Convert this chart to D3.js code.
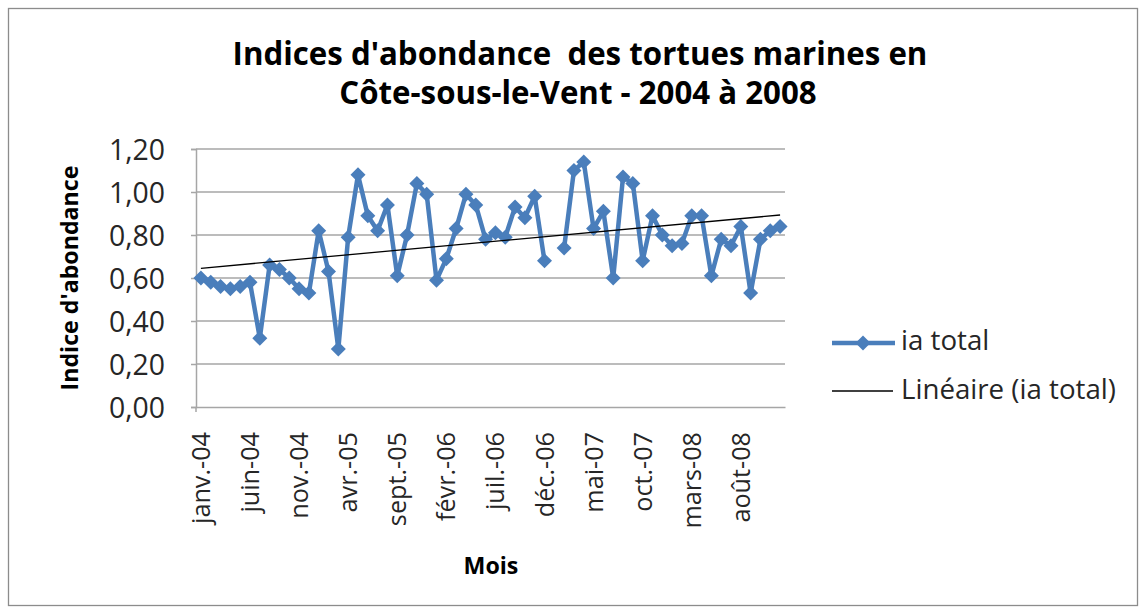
<!DOCTYPE html>
<html>
<head>
<meta charset="utf-8">
<script src="https://cdn.jsdelivr.net/npm/d3@7/dist/d3.min.js"></script>
<style>
  html, body { margin: 0; padding: 0; background: #fff; }
  svg { display: block; }
  text { font-family: "Open Sans", "Noto Sans", sans-serif; }
  .pre { white-space: pre; }
</style>
</head>
<body>
<script>
// ---------- DATA ----------
const titleLines = ["Indices d'abondance  des tortues marines en", "Côte-sous-le-Vent - 2004 à 2008"];
const monthAbbr = ["janv.", "févr.", "mars", "avr.", "mai", "juin", "juil.", "août", "sept.", "oct.", "nov.", "déc."];
const years = ["04", "05", "06", "07", "08"];
const categories = years.flatMap(y => monthAbbr.map(m => m + "-" + y));
const iaTotal = [
  0.60, 0.58, 0.56, 0.55, 0.56, 0.58, 0.32, 0.66, 0.64, 0.60, 0.55, 0.53,
  0.82, 0.63, 0.27, 0.79, 1.08, 0.89, 0.82, 0.94, 0.61, 0.80, 1.04, 0.99,
  0.59, 0.69, 0.83, 0.99, 0.94, 0.78, 0.81, 0.79, 0.93, 0.88, 0.98, 0.68,
  null, 0.74, 1.10, 1.14, 0.83, 0.91, 0.60, 1.07, 1.04, 0.68, 0.89, 0.80,
  0.75, 0.76, 0.89, 0.89, 0.61, 0.78, 0.75, 0.84, 0.53, 0.78, 0.82, 0.84
];
const yTicks = [0, 0.2, 0.4, 0.6, 0.8, 1.0, 1.2];
const seriesName = "ia total";
const trendName = "Linéaire (ia total)";
const yTitle = "Indice d'abondance";
const xTitle = "Mois";

// ---------- LAYOUT ----------
const W = 1146, H = 610;
const plot = { left: 196, right: 785, top: 149, bottom: 407 };
const blue = "#4A7EBB";

const svg = d3.select("body").append("svg").attr("width", W).attr("height", H);
svg.append("rect").attr("x", 0).attr("y", 0).attr("width", W).attr("height", H).attr("fill", "#fff");
svg.append("rect").attr("x", 8.5).attr("y", 8.5).attr("width", 1129).attr("height", 597)
  .attr("fill", "none").attr("stroke", "#8c8c8c").attr("stroke-width", 1.3);

function fit(sel, target) {
  const n = sel.node();
  const fs = parseFloat(sel.attr("font-size"));
  const w = n.getComputedTextLength();
  sel.attr("font-size", (fs * target / w).toFixed(2));
}

const x = d3.scaleBand().domain(categories).range([plot.left, plot.right]).padding(0);
const y = d3.scaleLinear().domain([0, 1.2]).range([plot.bottom, plot.top]);
const cx = d => x(d) + x.bandwidth() / 2;

// gridlines
svg.append("g").selectAll("line").data(yTicks.filter(t => t > 0)).join("line")
  .attr("x1", plot.left).attr("x2", plot.right)
  .attr("y1", d => y(d)).attr("y2", d => y(d))
  .attr("stroke", "#a6a6a6").attr("stroke-width", 1.5);

// y axis
const yAxis = d3.axisLeft(y).tickValues(yTicks).tickSize(5).tickPadding(26)
  .tickFormat(d => d3.format(".2f")(d).replace(".", ","));
const yg = svg.append("g").attr("transform", `translate(${plot.left},0)`).call(yAxis);
yg.select(".domain").attr("stroke", "#a6a6a6").attr("stroke-width", 1.5);
yg.selectAll(".tick line").attr("stroke", "#a6a6a6").attr("stroke-width", 1.5);
yg.selectAll(".tick text").attr("font-size", 21).attr("fill", "#262626")
  .attr("font-family", "'Open Sans', sans-serif").attr("dy", "0.36em");
fit(yg.selectAll(".tick text").filter(d => d === 1.2), 56);
const yfs = yg.selectAll(".tick text").filter(d => d === 1.2).attr("font-size");
yg.selectAll(".tick text").attr("font-size", yfs);

// x axis
const xAxis = d3.axisBottom(x).tickValues(categories.filter((d, i) => i % 5 === 0)).tickSize(0).tickFormat(d => d);
const xg = svg.append("g").attr("transform", `translate(0,${plot.bottom})`).call(xAxis);
xg.select(".domain").attr("stroke", "#a6a6a6").attr("stroke-width", 1.5);
xg.selectAll(".tick text")
  .attr("font-size", 20).attr("fill", "#262626").attr("font-family", "'Open Sans', sans-serif")
  .attr("text-anchor", "end").attr("transform", "rotate(-90)")
  .attr("x", -25).attr("y", 0).attr("dy", "0.36em");
fit(xg.selectAll(".tick text").filter(d => d === "janv.-04"), 92);
const xfs = xg.selectAll(".tick text").filter(d => d === "janv.-04").attr("font-size");
xg.selectAll(".tick text").attr("font-size", xfs);
svg.append("line").attr("x1", plot.left).attr("x2", plot.left).attr("y1", plot.bottom).attr("y2", plot.bottom + 5)
  .attr("stroke", "#a6a6a6").attr("stroke-width", 1.5);

// trendline (least squares on category index)
const pts = iaTotal.map((v, i) => [i + 1, v]).filter(p => p[1] != null);
const mx = d3.mean(pts, p => p[0]), my = d3.mean(pts, p => p[1]);
const slope = d3.sum(pts, p => (p[0] - mx) * (p[1] - my)) / d3.sum(pts, p => (p[0] - mx) ** 2);
const icpt = my - slope * mx;
const trend = [1, categories.length].map(i => ({ c: categories[i - 1], v: icpt + slope * i }));

// series
const data = categories.map((c, i) => ({ c, v: iaTotal[i] }));
const line = d3.line().defined(d => d.v != null).x(d => cx(d.c)).y(d => y(d.v));
svg.append("path").datum(data).attr("d", line).attr("fill", "none")
  .attr("stroke", blue).attr("stroke-width", 4.5).attr("stroke-linejoin", "round");
const diamond = s => `M0,${-s}L${s},0L0,${s}L${-s},0Z`;
svg.append("g").selectAll("path").data(data.filter(d => d.v != null)).join("path")
  .attr("transform", d => `translate(${cx(d.c)},${y(d.v)})`)
  .attr("d", diamond(7.5)).attr("fill", blue);

svg.append("path").datum(trend)
  .attr("d", d3.line().x(d => cx(d.c)).y(d => y(d.v)))
  .attr("stroke", "#000").attr("stroke-width", 1.3).attr("fill", "none");

// titles
const t1 = svg.append("text").attr("class", "pre").attr("x", 580).attr("y", 65).attr("text-anchor", "middle")
  .attr("font-size", 26).attr("font-weight", "bold").attr("fill", "#000").text(titleLines[0]);
fit(t1, 695);
const t2 = svg.append("text").attr("class", "pre").attr("x", 578).attr("y", 104).attr("text-anchor", "middle")
  .attr("font-size", t1.attr("font-size")).attr("font-weight", "bold").attr("fill", "#000").text(titleLines[1]);

const yt = svg.append("text").attr("transform", "translate(78,278) rotate(-90)").attr("text-anchor", "middle")
  .attr("font-size", 21).attr("font-weight", "bold").attr("fill", "#000").text(yTitle);
fit(yt, 225);
const xt = svg.append("text").attr("x", 491).attr("y", 574).attr("text-anchor", "middle")
  .attr("font-size", yt.attr("font-size")).attr("font-weight", "bold").attr("fill", "#000").text(xTitle);

// legend
const lg = svg.append("g");
lg.append("line").attr("x1", 832).attr("x2", 895).attr("y1", 343).attr("y2", 343)
  .attr("stroke", blue).attr("stroke-width", 4.5);
lg.append("path").attr("transform", "translate(863,343)").attr("d", diamond(7.5)).attr("fill", blue);
const l1 = lg.append("text").attr("x", 901).attr("y", 350).attr("font-size", 21).attr("fill", "#262626").text(seriesName);
lg.append("line").attr("x1", 832).attr("x2", 893).attr("y1", 391).attr("y2", 391)
  .attr("stroke", "#000").attr("stroke-width", 1.3);
const l2 = lg.append("text").attr("x", 901).attr("y", 399).attr("font-size", 21).attr("fill", "#262626").text(trendName);
fit(l2, 215);
l1.attr("font-size", l2.attr("font-size"));
</script>
</body>
</html>
